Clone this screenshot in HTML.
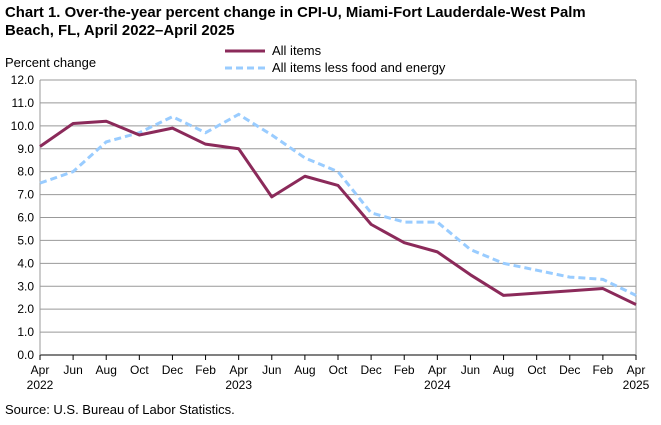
<!DOCTYPE html>
<html><head><meta charset="utf-8"><style>
body{margin:0;background:#fff;font-family:"Liberation Sans",Arial,sans-serif}
</style></head><body>
<svg width="661" height="420" xmlns="http://www.w3.org/2000/svg" font-family="Liberation Sans, Arial, sans-serif">
<text x="5" y="17" font-size="14.9" font-weight="bold">Chart 1. Over-the-year percent change in CPI-U, Miami-Fort Lauderdale-West Palm</text>
<text x="5" y="35" font-size="14.9" font-weight="bold">Beach, FL, April 2022–April 2025</text>
<text x="5" y="67" font-size="13">Percent change</text>
<line x1="225" y1="51" x2="265" y2="51" stroke="#8B2A5A" stroke-width="3"/>
<text x="272" y="55" font-size="13">All items</text>
<line x1="225" y1="68" x2="265" y2="68" stroke="#99CCFF" stroke-width="3" stroke-dasharray="7,4"/>
<text x="272" y="72" font-size="13">All items less food and energy</text>
<g id="grid"></g><g id="series"></g><g id="axes"></g>
<text x="5" y="414" font-size="13">Source: U.S. Bureau of Labor Statistics.</text>
</svg>
<script>
const months=["Apr","Jun","Aug","Oct","Dec","Feb","Apr","Jun","Aug","Oct","Dec","Feb","Apr","Jun","Aug","Oct","Dec","Feb","Apr"];
const years=["2022","","","","","","2023","","","","","","2024","","","","","","2025"];
const allItems=[9.1,10.1,10.2,9.6,9.9,9.2,9.0,6.9,7.8,7.4,5.7,4.9,4.5,3.5,2.6,2.7,2.8,2.9,2.2];
const coreItems=[7.5,8.0,9.3,9.7,10.4,9.7,10.5,9.6,8.6,8.0,6.2,5.8,5.8,4.6,4.0,3.7,3.4,3.3,2.6];
const yTicks=[0,1,2,3,4,5,6,7,8,9,10,11,12];
const NS="http://www.w3.org/2000/svg";
const L=40,R=636,T=80,B=355,yMax=12;
const xs=i=>L+i*(R-L)/(months.length-1);
const ys=v=>B-v/yMax*(B-T);
function mk(tag,attrs,parent){const e=document.createElementNS(NS,tag);for(const k in attrs)e.setAttribute(k,attrs[k]);document.getElementById(parent).appendChild(e);return e;}
yTicks.forEach(v=>{
 const g=mk("line",{x1:L,x2:R,y1:ys(v),y2:ys(v),stroke:v===0?"#000":"#999","stroke-width":1},"grid");
 
 
 const t=mk("text",{x:L-6,y:ys(v)+4,"font-size":12,"text-anchor":"end"},"axes");
 t.textContent=v.toFixed(1);
 
 
});
const fr=mk("line",{x1:R,x2:R,y1:T,y2:B,stroke:"#999"},"grid");


const ya=mk("line",{x1:L,x2:L,y1:T,y2:B,stroke:"#999"},"grid");


months.forEach((m,i)=>{
 const tk=mk("line",{x1:xs(i),x2:xs(i),y1:B,y2:B+5,stroke:"#000"},"axes");
 
 
 const t=mk("text",{x:xs(i),y:B+19,"font-size":12,"text-anchor":"middle"},"axes");
 t.textContent=m;
 
 
 if(years[i]){const y=mk("text",{x:xs(i),y:B+34,"font-size":12,"text-anchor":"middle"},"axes");
 y.textContent=years[i];
 
 }
});
const pts=a=>a.map((v,i)=>xs(i)+","+ys(v)).join(" ");
const c=mk("polyline",{points:pts(coreItems),fill:"none",stroke:"#99CCFF","stroke-width":3,"stroke-dasharray":"7,4"},"series");


const a=mk("polyline",{points:pts(allItems),fill:"none",stroke:"#8B2A5A","stroke-width":3,"stroke-linejoin":"round"},"series");


</script>
</body></html>
